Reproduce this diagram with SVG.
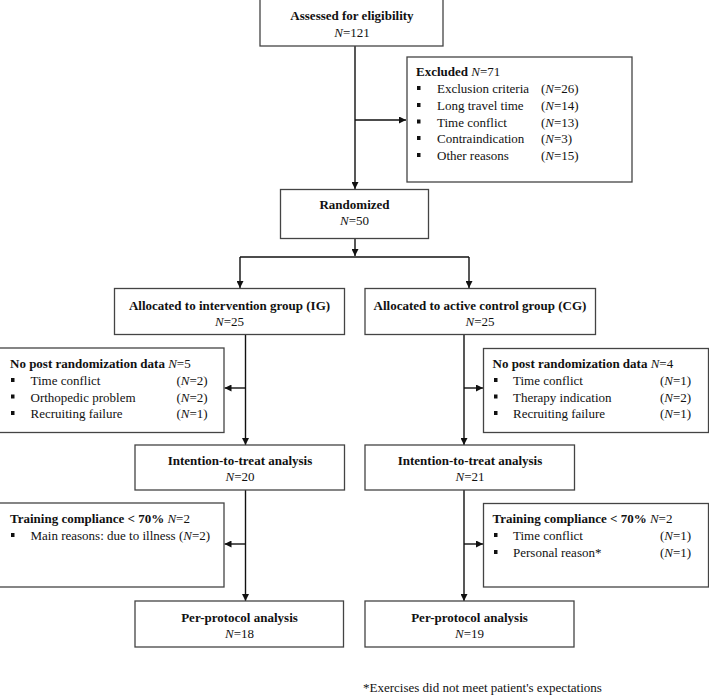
<svg xmlns="http://www.w3.org/2000/svg" width="709" height="696" viewBox="0 0 709 696">
<style>
text{font-family:"Liberation Serif","Times New Roman",serif;font-size:13px;fill:#111}
.b{font-weight:bold}
.i{font-style:italic}
.c{text-anchor:middle}
.box{fill:#fff;stroke:#444;stroke-width:1.3}
.ln{fill:none;stroke:#111;stroke-width:1.4}
.bu{fill:#111}
</style>
<defs>
<marker id="ah" viewBox="0 0 10 10" refX="10" refY="5" markerWidth="7" markerHeight="7" markerUnits="userSpaceOnUse" orient="auto">
<path d="M0,0 L10,5 L0,10 Z" fill="#111"/>
</marker>
</defs>
<g id="connectors">
<path class="ln" d="M355,46 V189" marker-end="url(#ah)"/>
<path class="ln" d="M355,120 H406" marker-end="url(#ah)"/>
<path class="ln" d="M355,238 V256" marker-end="url(#ah)"/>
<path class="ln" d="M240,257 H469"/>
<path class="ln" d="M240,257 V288" marker-end="url(#ah)"/>
<path class="ln" d="M469,257 V288" marker-end="url(#ah)"/>
<path class="ln" d="M245.5,334 V445" marker-end="url(#ah)"/>
<path class="ln" d="M245.5,388 H224.5" marker-end="url(#ah)"/>
<path class="ln" d="M245.5,490 V601" marker-end="url(#ah)"/>
<path class="ln" d="M245.5,544 H224.5" marker-end="url(#ah)"/>
<path class="ln" d="M464,334 V445" marker-end="url(#ah)"/>
<path class="ln" d="M464,388 H483" marker-end="url(#ah)"/>
<path class="ln" d="M464,490 V601" marker-end="url(#ah)"/>
<path class="ln" d="M464,544 H483" marker-end="url(#ah)"/>
</g>
<g id="assessed">
<rect class="box" x="260" y="-1" width="183" height="47"/>
<text class="c b" x="352" y="20">Assessed for eligibility</text>
<text class="c" x="352" y="37"><tspan class="i">N</tspan>=121</text>
</g>
<g id="excluded">
<rect class="box" x="407" y="57" width="225" height="125"/>
<text x="416" y="76"><tspan class="b">Excluded </tspan><tspan class="i">N</tspan>=71</text>
<rect class="bu" x="417" y="86" width="3.5" height="4"/>
<rect class="bu" x="417" y="103" width="3.5" height="4"/>
<rect class="bu" x="417" y="119.5" width="3.5" height="4"/>
<rect class="bu" x="417" y="136" width="3.5" height="4"/>
<rect class="bu" x="417" y="153" width="3.5" height="4"/>
<text x="437" y="93">Exclusion criteria</text>
<text x="437" y="110">Long travel time</text>
<text x="437" y="126.5">Time conflict</text>
<text x="437" y="143">Contraindication</text>
<text x="437" y="160">Other reasons</text>
<text x="541" y="93">(<tspan class="i">N</tspan>=26)</text>
<text x="541" y="110">(<tspan class="i">N</tspan>=14)</text>
<text x="541" y="126.5">(<tspan class="i">N</tspan>=13)</text>
<text x="541" y="143">(<tspan class="i">N</tspan>=3)</text>
<text x="541" y="160">(<tspan class="i">N</tspan>=15)</text>
</g>
<g id="randomized">
<rect class="box" x="280.5" y="189.5" width="148" height="49"/>
<text class="c b" x="354.5" y="209">Randomized</text>
<text class="c" x="354.5" y="225"><tspan class="i">N</tspan>=50</text>
</g>
<g id="alloc-ig">
<rect class="box" x="114.5" y="288.5" width="230" height="46"/>
<text class="c b" x="229.5" y="310">Allocated to intervention group (IG)</text>
<text class="c" x="229.5" y="326"><tspan class="i">N</tspan>=25</text>
</g>
<g id="alloc-cg">
<rect class="box" x="365" y="288.5" width="230.5" height="46"/>
<text class="c b" x="480" y="310">Allocated to active control group (CG)</text>
<text class="c" x="480" y="326"><tspan class="i">N</tspan>=25</text>
</g>
<g id="nopost-ig">
<rect class="box" x="-1" y="348" width="225" height="84.5"/>
<text x="10" y="368"><tspan class="b">No post randomization data </tspan><tspan class="i">N</tspan>=5</text>
<rect class="bu" x="11" y="378" width="3.5" height="4"/>
<rect class="bu" x="11" y="394.5" width="3.5" height="4"/>
<rect class="bu" x="11" y="411" width="3.5" height="4"/>
<text x="30.5" y="385">Time conflict</text>
<text x="30.5" y="401.5">Orthopedic problem</text>
<text x="30.5" y="418">Recruiting failure</text>
<text x="176.5" y="385">(<tspan class="i">N</tspan>=2)</text>
<text x="176.5" y="401.5">(<tspan class="i">N</tspan>=2)</text>
<text x="176.5" y="418">(<tspan class="i">N</tspan>=1)</text>
</g>
<g id="nopost-cg">
<rect class="box" x="483.5" y="348.5" width="225" height="84"/>
<text x="492.5" y="368"><tspan class="b">No post randomization data </tspan><tspan class="i">N</tspan>=4</text>
<rect class="bu" x="494" y="378" width="3.5" height="4"/>
<rect class="bu" x="494" y="394.5" width="3.5" height="4"/>
<rect class="bu" x="494" y="411" width="3.5" height="4"/>
<text x="513" y="385">Time conflict</text>
<text x="513" y="401.5">Therapy indication</text>
<text x="513" y="418">Recruiting failure</text>
<text x="660" y="385">(<tspan class="i">N</tspan>=1)</text>
<text x="660" y="401.5">(<tspan class="i">N</tspan>=2)</text>
<text x="660" y="418">(<tspan class="i">N</tspan>=1)</text>
</g>
<g id="itt-ig">
<rect class="box" x="135" y="445" width="209.5" height="45"/>
<text class="c b" x="240" y="465">Intention-to-treat analysis</text>
<text class="c" x="240" y="481"><tspan class="i">N</tspan>=20</text>
</g>
<g id="itt-cg">
<rect class="box" x="365" y="445" width="209.5" height="45"/>
<text class="c b" x="470" y="465">Intention-to-treat analysis</text>
<text class="c" x="470" y="481"><tspan class="i">N</tspan>=21</text>
</g>
<g id="train-ig">
<rect class="box" x="-1" y="503" width="225" height="84"/>
<text x="10" y="522.5"><tspan class="b">Training compliance &lt; 70% </tspan><tspan class="i">N</tspan>=2</text>
<rect class="bu" x="11" y="533" width="3.5" height="4"/>
<text x="30.5" y="540">Main reasons: due to illness (<tspan class="i">N</tspan>=2)</text>
</g>
<g id="train-cg">
<rect class="box" x="483.5" y="503.5" width="225" height="83.5"/>
<text x="492.5" y="523"><tspan class="b">Training compliance &lt; 70% </tspan><tspan class="i">N</tspan>=2</text>
<rect class="bu" x="494" y="533" width="3.5" height="4"/>
<rect class="bu" x="494" y="550" width="3.5" height="4"/>
<text x="513" y="540">Time conflict</text>
<text x="513" y="557">Personal reason*</text>
<text x="660" y="540">(<tspan class="i">N</tspan>=1)</text>
<text x="660" y="557">(<tspan class="i">N</tspan>=1)</text>
</g>
<g id="pp-ig">
<rect class="box" x="135" y="601" width="208.5" height="46"/>
<text class="c b" x="239.5" y="621.5">Per-protocol analysis</text>
<text class="c" x="239.5" y="637.5"><tspan class="i">N</tspan>=18</text>
</g>
<g id="pp-cg">
<rect class="box" x="365" y="601" width="209" height="46"/>
<text class="c b" x="469.5" y="621.5">Per-protocol analysis</text>
<text class="c" x="469.5" y="637.5"><tspan class="i">N</tspan>=19</text>
</g>
<text x="363" y="692">*Exercises did not meet patient's expectations</text>
</svg>
